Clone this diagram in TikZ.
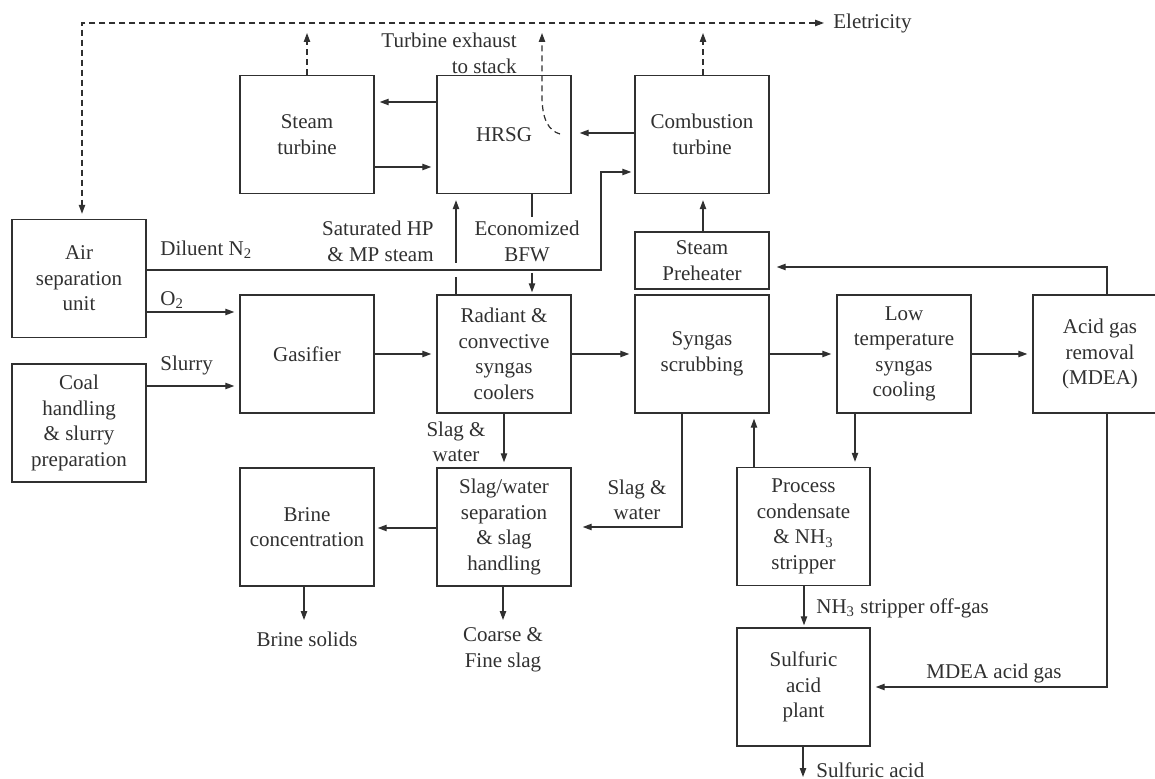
\documentclass[tikz,border=0pt]{standalone}
\usepackage{fontspec}
\setmainfont{Liberation Serif}
\usetikzlibrary{arrows.meta}
\definecolor{ink}{HTML}{303030}
\begin{document}
\begin{tikzpicture}[x=0.5pt,y=-0.5pt,
  >={Triangle[length=4.5pt,width=3.2pt]},
  font=\fontsize{10.5}{12.75}\selectfont,
  every node/.style={text=ink},
  box/.style={draw=ink, line width=0.7pt, minimum width=67pt, minimum height=59pt, align=center, inner sep=1pt},
  flow/.style={draw=ink, line width=0.6pt},
  arr/.style={flow, ->, shorten >=2.5pt},
  darr/.style={arr, dash pattern=on 3pt off 2pt},
  lbl/.style={inner sep=0pt, align=center}]
\useasboundingbox (0,0) rectangle (1155,779);
\clip (0,0) rectangle (1155,779);

% boxes
\node[box] (st) at (307,134.5) {Steam\\turbine};
\node[box] (hrsg) at (504,134.5) {HRSG};
\node[box] (ct) at (702,134.5) {Combustion\\turbine};
\node[box, minimum height=28.5pt] (sp) at (702,260.5) {Steam\\Preheater};
\node[box] (asu) at (79,278.5) {Air\\separation\\unit};
\node[box] (coal) at (79,423) {Coal\\handling\\\& slurry\\preparation};
\node[box] (gas) at (307,354) {Gasifier};
\node[box] (rad) at (504,354) {Radiant \&\\convective\\syngas\\coolers};
\node[box] (scrub) at (702,354) {Syngas\\scrubbing};
\node[box] (ltc) at (904,354) {Low\\temperature\\syngas\\cooling};
\node[box] (agr) at (1100,354) {Acid gas\\removal\\(MDEA)};
\node[box] (brine) at (307,527) {Brine\\concentration};
\node[box] (sw) at (504,527) {Slag/water\\separation\\\& slag\\handling};
\node[box, minimum width=66.5pt] (pc) at (803.5,526.5) {Process\\condensate\\\& NH\textsubscript{3}\\stripper};
\node[box, minimum width=66.5pt] (sap) at (803.5,687) {Sulfuric\\acid\\plant};

% labels
\node[lbl, anchor=west] (elec) at (833,23) {Eletricity};
\node[lbl, anchor=east, align=right] (tex) at (517,53.5) {Turbine exhaust\\to stack};
\node[lbl, anchor=west] (dil) at (160,250) {Diluent N\textsubscript{2}};
\node[lbl, anchor=east, align=right] (sat) at (434,241.5) {Saturated HP\\\& MP steam};
\node[lbl] (bfw) at (527,241.5) {Economized\\BFW};
\node[lbl, anchor=west] (o2) at (160,300) {O\textsubscript{2}};
\node[lbl, anchor=west] (slurry) at (160,365) {Slurry};
\node[lbl] (sl1) at (456,442) {Slag \&\\water};
\node[lbl] (sl2) at (637,500) {Slag \&\\water};
\node[lbl] (bsol) at (307,639) {Brine solids};
\node[lbl] (cfs) at (503,650) {Coarse \&\\Fine slag};
\node[lbl, anchor=west] (nh3) at (816,608) {NH\textsubscript{3} stripper off-gas};
\node[lbl] (mdea) at (994,673) {MDEA acid gas};
\node[lbl, anchor=west] (sulf) at (816,770) {Sulfuric acid};

% free ends
\coordinate (stup) at (307,33);
\coordinate (ctup) at (703,33);
\coordinate (hx) at (560,134);
\coordinate (hup) at (542,33);
\coordinate (bsin) at (304,620);
\coordinate (cfsin) at (503,620);
\coordinate (sulfout) at (803,777);

% electricity (dashed)
\draw[darr, <->, shorten <=4.5pt] (elec.west) -| ([xshift=1.5pt]asu.north);
\draw[darr, shorten >=0pt] (st.north) -- (stup);
\draw[darr, shorten >=0pt] (ct.north -| ctup) -- (ctup);
\draw[darr, shorten >=0pt] (hx) .. controls (549,131) and (542,120) .. (542,96) -- (hup);

% power block
\draw[arr] (hrsg.west |- 0,102) -- (st.east |- 0,102);
\draw[arr] (st.east |- 0,167) -- (hrsg.west |- 0,167);
\draw[arr, shorten >=4pt] (ct.west |- 0,133) -- (hrsg.east |- 0,133);
\draw[arr, shorten >=1.5pt] (asu.east |- 0,270) -| (601,172) -- (ct.west |- 0,172);
\draw[flow] (rad.north -| 456,0) -- (456,277);
\draw[arr, shorten >=3pt] (456,263) -- (hrsg.south -| 456,0);
\draw[flow] (hrsg.south -| 532,0) -- (532,217);
\draw[arr, shorten >=1pt] (532,273) -- (rad.north -| 532,0);
\draw[arr, shorten >=3pt] (sp.north -| 703,0) -- (ct.south -| 703,0);
\draw[arr, shorten >=3.5pt] (agr.north -| 1107,0) |- (sp.east |- 0,267);

% gasification train
\draw[arr] (asu.east |- 0,312) -- (gas.west |- 0,312);
\draw[arr] (coal.east |- 0,386) -- (gas.west |- 0,386);
\draw[arr] (gas.east) -- (rad.west);
\draw[arr] (rad.east) -- (scrub.west);
\draw[arr] (scrub.east) -- (ltc.west);
\draw[arr] (ltc.east) -- (agr.west);

% lower part
\draw[arr] (rad.south) -- (sw.north);
\draw[arr, shorten >=5.5pt] (scrub.south -| 682,0) |- (sw.east |- 0,527);
\draw[arr, shorten >=1.5pt] (sw.west |- 0,528) -- (brine.east |- 0,528);
\draw[arr, shorten >=0pt] (brine.south -| bsin) -- (bsin);
\draw[arr, shorten >=0pt] (sw.south -| cfsin) -- (cfsin);
\draw[arr] (pc.north -| 754,0) -- (scrub.south -| 754,0);
\draw[arr] (ltc.south -| 855,0) -- (pc.north -| 855,0);
\draw[arr, shorten >=1pt] (pc.south -| 804,0) -- (sap.north -| 804,0);
\draw[arr] (agr.south -| 1107,0) |- (sap.east |- 0,687);
\draw[arr, shorten >=0pt] (sap.south -| sulfout) -- (sulfout);
\end{tikzpicture}
\end{document}
